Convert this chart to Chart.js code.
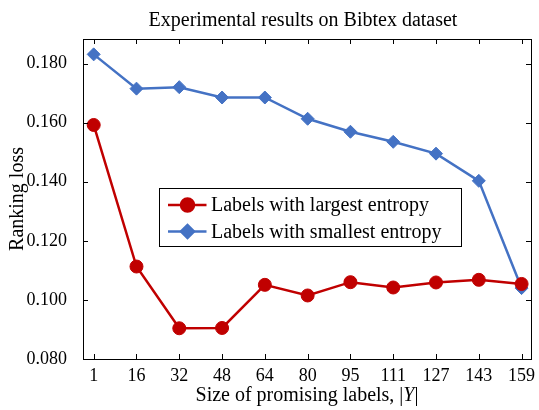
<!DOCTYPE html>
<html lang="en">
<head>
    <meta charset="UTF-8">
    <title>Bibtex ranking loss</title>
    <script src="https://cdn.jsdelivr.net/npm/chart.js"></script>
    <style>
        body { margin: 0; background: #fff; }
        #wrap { width: 539px; height: 410px; position: relative; }
    </style>
</head>
<body>
<div id="wrap">
    <canvas id="myChart"></canvas>
</div>

<script>

    const sizeLabels = ['1', '16', '32', '48', '64', '80', '95', '111', '127', '143', '159'];
    const largestEntropy = [0.1592, 0.1113, 0.0904, 0.0905, 0.1051, 0.1015, 0.1060, 0.1042, 0.1059, 0.1068, 0.1054];
    const smallestEntropy = [0.1831, 0.1715, 0.1720, 0.1685, 0.1685, 0.1613, 0.1569, 0.1535, 0.1495, 0.1403, 0.1040];
    const yTicks = [0.080, 0.100, 0.120, 0.140, 0.160, 0.180];

    const RED = 'rgb(192,0,0)';
    const BLUE = 'rgb(68,114,196)';
    const FONT = '"Liberation Serif", "Times New Roman", serif';

    function toPoints(values) {
        return values.map((v, i) => ({x: i, y: v}));
    }

    // box around the axes, inward ticks on all four sides, titles and the legend
    const matlabFrame = {
        id: 'matlabFrame',
        afterDraw(chart) {
            const c = chart.ctx;
            const a = chart.chartArea;
            const xs = chart.scales.x;
            const ys = chart.scales.y;
            const tl = 5;
            c.save();
            c.strokeStyle = '#000';
            c.lineWidth = 1;
            c.beginPath();
            xs.ticks.forEach(t => {
                const px = Math.round(xs.getPixelForValue(t.value)) + 0.5;
                c.moveTo(px, a.bottom); c.lineTo(px, a.bottom - tl);
                c.moveTo(px, a.top); c.lineTo(px, a.top + tl);
            });
            ys.ticks.forEach(t => {
                const py = Math.round(ys.getPixelForValue(t.value)) + 0.5;
                c.moveTo(a.left, py); c.lineTo(a.left + tl, py);
                c.moveTo(a.right, py); c.lineTo(a.right - tl, py);
            });
            c.stroke();
            c.strokeRect(Math.round(a.left) + 0.5, Math.round(a.top) + 0.5,
                Math.round(a.right - a.left), Math.round(a.bottom - a.top));

            c.fillStyle = '#000';
            c.textAlign = 'center';
            c.textBaseline = 'alphabetic';
            c.font = '20px ' + FONT;
            c.fillText('Experimental results on Bibtex dataset', 303, 25.5);

            // x axis title with italic Y
            const partA = 'Size of promising labels, |';
            const wA = c.measureText(partA).width;
            c.font = 'italic 20px ' + FONT;
            const wY = c.measureText('Y').width;
            c.font = '20px ' + FONT;
            const wB = c.measureText('|').width;
            const x0 = (a.left + a.right) / 2 - (wA + wY + wB) / 2;
            c.textAlign = 'left';
            c.fillText(partA, x0, 400.5);
            c.font = 'italic 20px ' + FONT;
            c.fillText('Y', x0 + wA, 400.5);
            c.font = '20px ' + FONT;
            c.fillText('|', x0 + wA + wY, 400.5);

            c.save();
            c.translate(18, (a.top + a.bottom) / 2);
            c.rotate(-Math.PI / 2);
            c.textAlign = 'center';
            c.textBaseline = 'middle';
            c.fillText('Ranking loss', 0, 0);
            c.restore();

            // legend
            const lx = 159.5, ly = 188.5, lw = 302, lh = 58;
            c.fillStyle = '#fff';
            c.fillRect(lx, ly, lw, lh);
            c.strokeRect(lx, ly, lw, lh);
            chart.data.datasets.forEach((ds, i) => {
                const cy = 205 + i * 26.5;
                c.strokeStyle = ds.borderColor;
                c.lineWidth = ds.borderWidth;
                c.beginPath();
                c.moveTo(168, cy); c.lineTo(206.5, cy);
                c.stroke();
                Chart.helpers.drawPoint(c, {
                    pointStyle: ds.pointStyle,
                    radius: ds.pointRadius,
                    borderWidth: 1
                }, 187.5, cy);
                c.fillStyle = ds.pointBackgroundColor;
                c.strokeStyle = ds.pointBorderColor;
                c.fill();
                c.fillStyle = '#000';
                c.font = '20px ' + FONT;
                c.textAlign = 'left';
                c.textBaseline = 'middle';
                c.fillText(ds.label, 211, cy + 1);
            });
            c.restore();
        }
    };

    const ctx = document.getElementById('myChart').getContext('2d');

    const chart = new Chart(ctx, {
        type: 'line',
        data: {
            datasets: [{
                label: 'Labels with largest entropy',
                data: toPoints(largestEntropy),
                borderColor: RED,
                backgroundColor: RED,
                pointBackgroundColor: RED,
                pointBorderColor: RED,
                borderWidth: 2.5,
                pointStyle: 'circle',
                pointRadius: 6.5,
                pointBorderWidth: 1
            }, {
                label: 'Labels with smallest entropy',
                data: toPoints(smallestEntropy),
                borderColor: BLUE,
                backgroundColor: BLUE,
                pointBackgroundColor: BLUE,
                pointBorderColor: BLUE,
                borderWidth: 2.5,
                pointStyle: 'rectRot',
                pointRadius: 6.5,
                pointBorderWidth: 1
            }]
        },
        options: {
            responsive: true,
            maintainAspectRatio: false,
            animation: false,
            layout: {padding: {top: 39, right: 8, bottom: 0, left: 0}},
            plugins: {
                legend: {display: false},
                tooltip: {enabled: false},
                title: {display: false}
            },
            scales: {
                x: {
                    type: 'linear',
                    min: -0.25,
                    max: 10.22,
                    grid: {display: false},
                    border: {display: false},
                    afterFit(scale) { scale.height = 51; },
                    ticks: {
                        stepSize: 1,
                        includeBounds: false,
                        autoSkip: false,
                        maxRotation: 0,
                        padding: -2,
                        color: '#000',
                        font: {family: FONT, size: 18},
                        callback: v => sizeLabels[v]
                    }
                },
                y: {
                    type: 'linear',
                    min: 0.08,
                    max: 0.1883,
                    grid: {display: false},
                    border: {display: false},
                    afterFit(scale) { scale.width = 83; },
                    afterBuildTicks(scale) {
                        scale.ticks = yTicks.map(v => ({value: v}));
                    },
                    ticks: {
                        padding: 8,
                        color: '#000',
                        font: {family: FONT, size: 18},
                        callback: v => v.toFixed(3)
                    }
                }
            }
        },
        plugins: [matlabFrame]
    });

</script>
</body>
</html>
